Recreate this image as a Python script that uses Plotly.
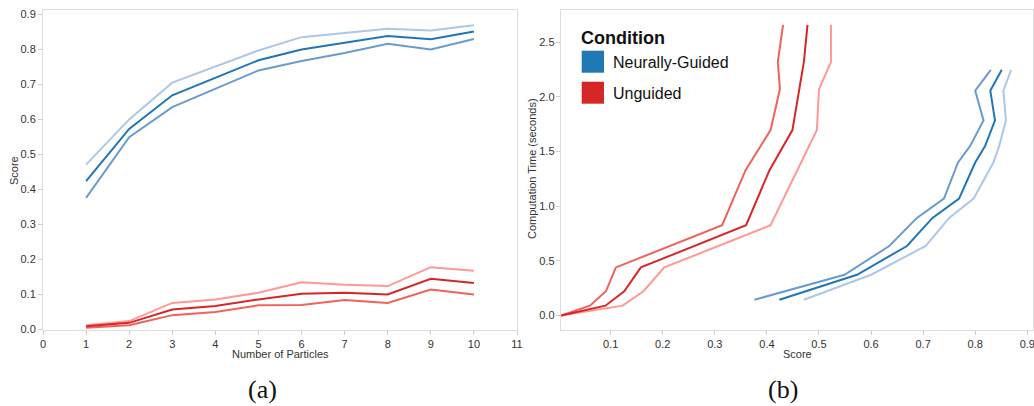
import plotly.graph_objects as go

# ---------------- data ----------------
particles = [1, 2, 3, 4, 5, 6, 7, 8, 9, 10]

# Neurally-guided scores (lower bound, mean, upper bound)
ng_low = [0.376, 0.549, 0.635, 0.688, 0.740, 0.767, 0.790, 0.816, 0.800, 0.830]
ng_mid = [0.424, 0.573, 0.669, 0.718, 0.769, 0.800, 0.819, 0.838, 0.829, 0.851]
ng_high = [0.471, 0.600, 0.705, 0.750, 0.797, 0.835, 0.846, 0.859, 0.854, 0.869]

# Unguided scores (lower bound, mean, upper bound)
ug_low = [0.005, 0.012, 0.041, 0.050, 0.069, 0.070, 0.084, 0.076, 0.114, 0.100]
ug_mid = [0.009, 0.019, 0.057, 0.067, 0.086, 0.102, 0.105, 0.100, 0.145, 0.133]
ug_high = [0.012, 0.024, 0.076, 0.086, 0.105, 0.135, 0.128, 0.124, 0.178, 0.168]

# Panel (b): computation time vs score
ng_time = [0.144, 0.373, 0.636, 0.893, 1.070, 1.400, 1.550, 1.785, 2.057, 2.248]

ug_time = [0.0, 0.090, 0.222, 0.440, 0.826, 1.330, 1.697, 2.070, 2.320, 2.660]
ug_time_low = [0.005, 0.060, 0.091, 0.110, 0.314, 0.359, 0.407, 0.425, 0.421, 0.431]
ug_time_mid = [0.005, 0.090, 0.126, 0.158, 0.360, 0.405, 0.449, 0.463, 0.471, 0.478]
ug_time_high = [0.005, 0.123, 0.163, 0.203, 0.407, 0.458, 0.496, 0.500, 0.523, 0.523]

legend_names = ["Neurally-Guided", "Unguided"]

# ---------------- style ----------------
BLUE_D, BLUE_M, BLUE_L = "#1f77b4", "#6a9bd0", "#aec7e8"
RED_D, RED_M, RED_L = "#d62728", "#f0625a", "#ff9896"
FONT = "Liberation Sans, Arial, sans-serif"
W, H = 1034, 406

fig = go.Figure()

def line(x, y, color, xa, ya, width=2):
    fig.add_trace(go.Scatter(x=x, y=y, mode="lines", xaxis=xa, yaxis=ya,
                             line=dict(color=color, width=width),
                             showlegend=False, hoverinfo="skip"))

# panel (a)
line(particles, ng_high, BLUE_L, "x", "y")
line(particles, ng_low, BLUE_M, "x", "y")
line(particles, ng_mid, BLUE_D, "x", "y")
line(particles, ug_high, RED_L, "x", "y")
line(particles, ug_low, RED_M, "x", "y")
line(particles, ug_mid, RED_D, "x", "y")

# panel (b)
line(ng_high, ng_time, BLUE_L, "x2", "y2")
line(ng_low, ng_time, BLUE_M, "x2", "y2")
line(ng_mid, ng_time, BLUE_D, "x2", "y2")
line(ug_time_high, ug_time, RED_L, "x2", "y2")
line(ug_time_low, ug_time, RED_M, "x2", "y2")
line(ug_time_mid, ug_time, RED_D, "x2", "y2")

def px_x(p):
    return p / W

def px_y(p):
    return 1 - p / H

axis_common = dict(showgrid=False, zeroline=False, showline=True, mirror=True,
                   linecolor="#dddddd", linewidth=1, ticks="outside", ticklen=4,
                   tickcolor="#cccccc", automargin=False, ticklabeloverflow="allow",
                   tickfont=dict(family=FONT, size=11, color="#333333"))

fig.update_layout(
    width=W, height=H, margin=dict(l=0, r=0, t=0, b=0),
    paper_bgcolor="white", plot_bgcolor="white",
    xaxis=dict(domain=[px_x(43), px_x(517)], range=[0, 11], tickmode="linear", dtick=1,
               anchor="y", **axis_common),
    yaxis=dict(domain=[px_y(329.5), px_y(9.5)], range=[0, 0.914], tickmode="array",
               tickvals=[0, 0.1, 0.2, 0.3, 0.4, 0.5, 0.6, 0.7, 0.8, 0.9],
               ticktext=["0.0", "0.1", "0.2", "0.3", "0.4", "0.5", "0.6", "0.7", "0.8", "0.9"],
               anchor="x", **axis_common),
    xaxis2=dict(domain=[px_x(560.7), px_x(1033)], range=[0.004, 0.911], tickmode="linear",
                tick0=0.1, dtick=0.1, tickformat=".1f", anchor="y2", **axis_common),
    yaxis2=dict(domain=[px_y(329.5), px_y(9.5)], range=[-0.128, 2.80], tickmode="linear",
                tick0=0, dtick=0.5, tickformat=".1f", anchor="x2", ticklabelstandoff=-1,
                **axis_common),
)

# axis titles
title_font = dict(family=FONT, size=11, color="#333333")
for txt, x, y, ang in [("Number of Particles", 280, 354, 0), ("Score", 14, 171, -90),
                       ("Score", 797, 354, 0), ("Computation Time (seconds)", 532, 169, -90)]:
    fig.add_annotation(x=px_x(x), y=px_y(y), xref="paper", yref="paper", text=txt,
                       showarrow=False, xanchor="center", yanchor="middle", textangle=ang,
                       font=title_font)

# legend (drawn manually to match the square swatches)
fig.add_annotation(x=px_x(579), y=px_y(38), xref="paper", yref="paper", text="<b>Condition</b>",
                   showarrow=False, xanchor="left", yanchor="middle",
                   font=dict(family=FONT, size=18, color="#111111"))
for i, (name, col) in enumerate(zip(legend_names, [BLUE_D, RED_D])):
    top = 50.7 + i * 31
    fig.add_shape(type="rect", xref="paper", yref="paper",
                  x0=px_x(581.7), x1=px_x(604), y0=px_y(top + 22), y1=px_y(top),
                  fillcolor=col, line=dict(width=0))
    fig.add_annotation(x=px_x(611), y=px_y(top + 11.5), xref="paper", yref="paper", text=name,
                       showarrow=False, xanchor="left", yanchor="middle",
                       font=dict(family=FONT, size=16, color="#111111"))

# sub-figure captions
for txt, cx in [("(a)", 262), ("(b)", 783)]:
    fig.add_annotation(x=px_x(cx), y=px_y(389), xref="paper", yref="paper", text=txt,
                       showarrow=False, xanchor="center", yanchor="middle",
                       font=dict(family="Liberation Serif, serif", size=26, color="#111111"))

fig.write_html("out.html", config={"displayModeBar": False},
               post_script="document.body.style.margin='0';document.body.style.overflow='hidden';")
